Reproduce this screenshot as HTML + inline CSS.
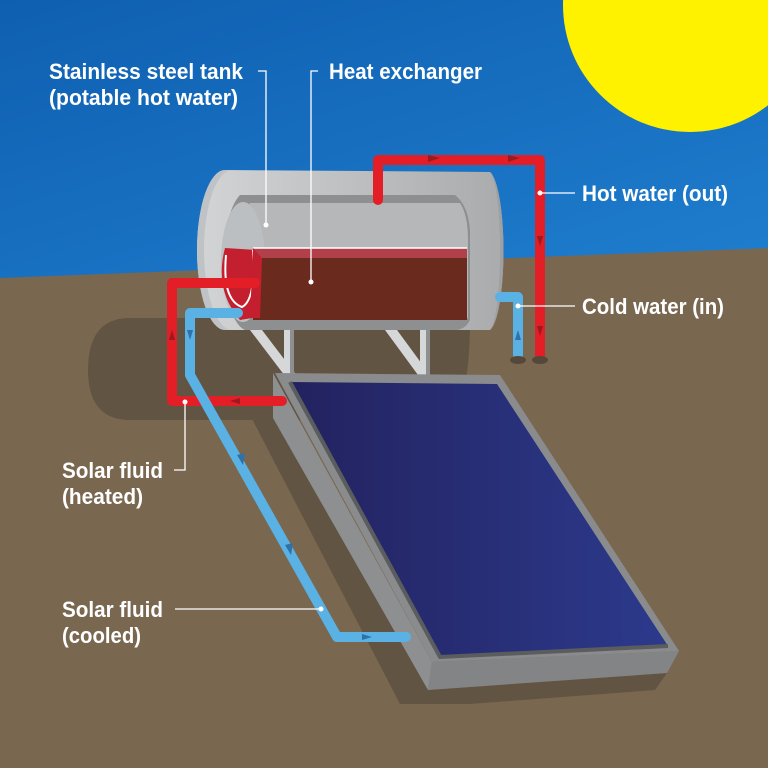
<!DOCTYPE html>
<html><head><meta charset="utf-8"><style>
html,body{margin:0;padding:0;width:768px;height:768px;overflow:hidden}
text{font-family:"Liberation Sans Narrow","Liberation Sans",sans-serif;font-weight:bold;fill:#fff;font-size:22px}
</style></head><body>
<svg width="768" height="768" viewBox="0 0 768 768" xmlns="http://www.w3.org/2000/svg">
<defs>
<linearGradient id="sky" x1="0" y1="0" x2="0.3" y2="1"><stop offset="0" stop-color="#0f5fb0"/><stop offset="1" stop-color="#2a92e2"/></linearGradient>
<linearGradient id="pan" x1="0" y1="0" x2="1" y2="0"><stop offset="0" stop-color="#23225f"/><stop offset="1" stop-color="#2c3a8c"/></linearGradient>
<linearGradient id="tank" x1="0" y1="0" x2="1" y2="0"><stop offset="0" stop-color="#d2d4d6"/><stop offset="1" stop-color="#a9abad"/></linearGradient>
</defs>
<rect width="768" height="768" fill="url(#sky)"/>
<circle cx="690" cy="5" r="127" fill="#fff200"/>
<polygon points="0,278 768,248 768,768 0,768" fill="#7a6750"/>
<!-- shadows -->
<path d="M130,318 L470,318 Q470,420 440,420 L130,420 Q88,420 88,370 Q88,318 130,318Z" fill="#625442"/>
<polygon points="250,415 275,418 428,690 667,673 655,690 470,704 400,704" fill="#625442"/>
<!-- stand -->
<polygon points="250,330 262,330 300,380 288,380" fill="#d6d7d8"/>
<rect x="284" y="325" width="10" height="50" fill="#d6d7d8"/><rect x="290" y="325" width="4" height="50" fill="#8d8f91"/>
<polygon points="385,330 397,330 430,375 418,375" fill="#d6d7d8"/>
<rect x="420" y="325" width="10" height="50" fill="#d6d7d8"/><rect x="426" y="325" width="4" height="50" fill="#8d8f91"/>
<!-- tank outer -->
<path d="M225,170 L490,172 A16,80 0 0 1 490,330 L225,330 A28,80 0 0 1 225,170Z" fill="url(#tank)"/>
<path d="M490,172 A16,80 0 0 1 490,330 A12,80 0 0 0 490,172Z" fill="#9ea0a2"/>
<path d="M225,170 A28,80 0 0 0 225,330 L232,330 A28,80 0 0 1 232,170Z" fill="#bfc3c5"/>
<!-- inner cutout -->
<path d="M240,195 L455,195 Q468,205 470,230 L470,320 Q465,330 455,330 L245,330 A25,70 0 0 1 240,195Z" fill="#8e8f91"/>
<path d="M250,203 L460,203 Q468,215 468,240 L468,318 L250,318 A25,62 0 0 1 250,203Z" fill="#b5b7b9"/>
<ellipse cx="243" cy="262" rx="22" ry="60" fill="#bcbfc1"/>
<path d="M225,248 Q214,290 240,320 L252,318 L257,250 Z" fill="#c41f2e"/>
<path d="M226,255 Q222,300 242,307 Q256,300 253,250" fill="none" stroke="#fff" stroke-width="2"/>
<rect x="253" y="248" width="214" height="72" fill="#6a2b1e"/>
<rect x="253" y="248" width="214" height="10" fill="#b2404a"/>
<line x1="253" y1="248" x2="467" y2="248" stroke="#fff" stroke-width="1.5"/>
<path d="M253,248 L262,258 L260,318 L250,318Z" fill="#c41f2e"/>
<!-- panel -->
<polygon points="273,373 432,662 428,690 273,418" fill="#8e8f91"/>
<polygon points="432,662 679,651 667,673 428,690" fill="#838486"/>
<polygon points="275,373 500,375 679,651 432,662" fill="#8a8b8d"/>
<polygon points="290,382 497,384 668,646 440,657" fill="url(#pan)"/>
<polyline points="290,382 440,657 668,646" fill="none" stroke="#5b5c5e" stroke-width="4"/>
<!-- pipes -->
<g fill="none" stroke-linecap="round" stroke-linejoin="round" stroke-width="10">
<polyline points="378,200 378,160 540,160 540,355" stroke="#e31e26"/>
<polyline points="518,355 518,297 500,297" stroke="#5ab1e3"/>
<polyline points="255,283 172,283 172,401 282,401" stroke="#e31e26"/>
<polyline points="238,313 190,313 190,375 337,637 406,637" stroke="#5ab1e3"/>
</g>
<ellipse cx="518" cy="360" rx="8" ry="4" fill="#55483a"/><ellipse cx="540" cy="360" rx="8" ry="4" fill="#55483a"/>
<!-- arrows -->
<g fill="#9a1a20">
<polygon points="428,155 440,158 428,162"/><polygon points="508,155 520,158 508,162"/>
<polygon points="537,236 540,246 543,236"/><polygon points="537,326 540,336 543,326"/>
<polygon points="169,340 172,330 175,340"/><polygon points="240,398 230,401 240,404"/>
</g>
<g fill="#2f72a8">
<polygon points="515,340 518,330 521,340"/><polygon points="187,330 190,340 193,330"/>
<polygon points="237,455 243,465 245,453"/><polygon points="285,545 291,555 293,543"/>
<polygon points="362,634 372,637 362,640"/>
</g>
<!-- leaders -->
<g stroke="#fff" stroke-width="1.3" fill="none">
<polyline points="258,71 266,71 266,225"/>
<polyline points="318,71 311,71 311,282"/>
<line x1="540" y1="193" x2="575" y2="193"/>
<line x1="518" y1="306" x2="575" y2="306"/>
<polyline points="185,402 185,470 174,470"/>
<line x1="175" y1="609" x2="321" y2="609"/>
</g>
<g fill="#fff"><circle cx="266" cy="225" r="2.5"/><circle cx="311" cy="282" r="2.5"/><circle cx="540" cy="193" r="2.5"/><circle cx="518" cy="306" r="2.5"/><circle cx="185" cy="402" r="2.5"/><circle cx="321" cy="609" r="2.5"/></g>
<!-- labels -->
<text x="49" y="79" textLength="194" lengthAdjust="spacingAndGlyphs">Stainless steel tank</text>
<text x="49" y="105" textLength="189" lengthAdjust="spacingAndGlyphs">(potable hot water)</text>
<text x="329" y="79" textLength="153" lengthAdjust="spacingAndGlyphs">Heat exchanger</text>
<text x="582" y="201" textLength="146" lengthAdjust="spacingAndGlyphs">Hot water (out)</text>
<text x="582" y="314" textLength="142" lengthAdjust="spacingAndGlyphs">Cold water (in)</text>
<text x="62" y="478" textLength="101" lengthAdjust="spacingAndGlyphs">Solar fluid</text>
<text x="62" y="504" textLength="81" lengthAdjust="spacingAndGlyphs">(heated)</text>
<text x="62" y="617" textLength="101" lengthAdjust="spacingAndGlyphs">Solar fluid</text>
<text x="62" y="643" textLength="79" lengthAdjust="spacingAndGlyphs">(cooled)</text>
</svg>
</body></html>
